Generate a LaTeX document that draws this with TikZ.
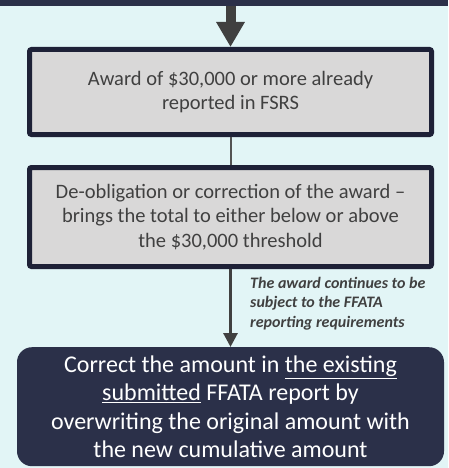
\documentclass[tikz,border=0pt]{standalone}
\usepackage{fontspec}
\setmainfont{Carlito}
\usepackage{xcolor}
\definecolor{mybg}{RGB}{226,245,246}
\definecolor{mynavy}{RGB}{43,48,73}
\definecolor{myborder}{RGB}{30,33,55}
\definecolor{mygray}{RGB}{217,216,216}
\definecolor{mytext}{RGB}{64,64,64}
\usepackage{tikz}
\usetikzlibrary{arrows.meta, positioning}

\begin{document}
\begin{tikzpicture}[x=1pt, y=-1pt,
    stepbox/.style={rectangle, rounded corners=2pt, draw=myborder, line width=5pt,
      fill=mygray, text=mytext, minimum width=402pt, align=center,
      font=\fontsize{20.5}{24.5}\selectfont},
    result/.style={rectangle, rounded corners=15pt, fill=mynavy, text=white,
      minimum width=427pt, minimum height=119pt, inner ysep=0pt, align=center,
      font=\fontsize{24}{28.5}\selectfont},
    note/.style={align=left, text=mytext, inner sep=0pt,
      font=\fontsize{16}{19.5}\selectfont\bfseries\itshape},
    bigarrow/.style={line width=10pt, mytext, -{Triangle[width=27pt, length=25pt]}},
    link/.style={line width=2pt, mytext!90},
    arrow/.style={line width=3pt, mytext, -{Triangle[width=14pt, length=14pt]}}
]
\fill[mybg] (0,0) rectangle (448,468);
\useasboundingbox (0,0) rectangle (448,468);
\fill[mynavy] (0,0) rectangle (448,6);

\node[stepbox, minimum height=85pt] (award) at (230.5,92)
  {Award of \$30,000 or more already\\reported in FSRS};
\node[stepbox, minimum height=99pt, below=28pt of award] (deob)
  {De-obligation or correction of the award --\\brings the total to either below or above\\the \$30,000 threshold};
\node[result, below=78pt of deob] (correct)
  {Correct the amount in \underline{the existing}\\
   \underline{submitted} FFATA report by\\
   overwriting the original amount with\\
   the new cumulative amount};

\coordinate (top) at (award.north |- 0,6);
\draw[bigarrow] (top) -- (award.north);
\draw[link] (award) -- (deob);
\draw[arrow] (deob) -- (correct);
\node[note, anchor=north west] (cont) at (250,277)
  {The award continues to be\\subject to the FFATA\\reporting requirements};
\end{tikzpicture}
\end{document}
